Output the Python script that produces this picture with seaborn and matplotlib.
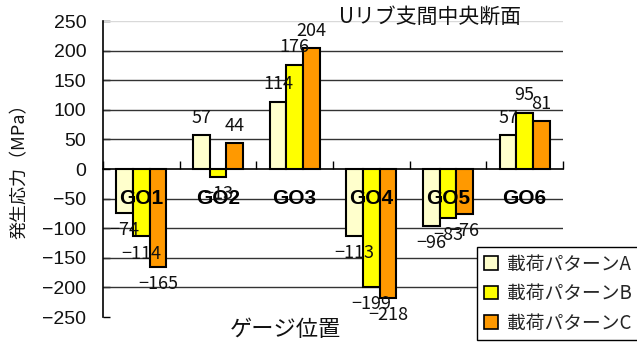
import numpy as np
import pandas as pd
import matplotlib
matplotlib.use("Agg")
import matplotlib.pyplot as plt
import seaborn as sns

# Gauge positions and stress values (MPa) for each loading pattern
gauges = ["GO1", "GO2", "GO3", "GO4", "GO5", "GO6"]
pattern_names = ["載荷パターンA", "載荷パターンB", "載荷パターンC"]
pattern_a = [-74, 57, 114, -113, -96, 57]
pattern_b = [-114, -13, 176, -199, -83, 95]
pattern_c = [-165, 44, 204, -218, -76, 81]
y_ticks = list(range(-250, 251, 50))

colors = ["#FFFFCC", "#FFFF00", "#FF9900"]

df = pd.DataFrame({
    "gauge": gauges * 3,
    "pattern": [pattern_names[0]] * 6 + [pattern_names[1]] * 6 + [pattern_names[2]] * 6,
    "stress": pattern_a + pattern_b + pattern_c,
})

sns.set_theme(style="white")
plt.rcParams["font.family"] = ["Noto Sans CJK JP", "DejaVu Sans"]
plt.rcParams["axes.unicode_minus"] = True

fig = plt.figure(figsize=(6.37, 3.42), dpi=100)
ax = fig.add_axes([103 / 637, 1 - 317 / 342, 460 / 637, 296 / 342])

sns.barplot(data=df, x="gauge", y="stress", hue="pattern", order=gauges,
            hue_order=pattern_names, palette=colors, width=0.65, gap=0,
            edgecolor="black", linewidth=1.5, saturation=1, ax=ax,
            legend=True, zorder=3)

ax.set_ylim(-250, 250)
ax.set_xlim(-0.5, 5.5)

# horizontal reference lines
for v in y_ticks:
    if v in (0, -250):
        continue
    color = "#D9D9D9" if v == 250 else "#333333"
    ax.axhline(v, color=color, lw=1.0, zorder=1)

ax.set_yticks(y_ticks)
ax.set_yticklabels([f"{v}".replace("-", "\u2212") for v in y_ticks],
                   fontfamily="Liberation Sans", fontsize=14)
ax.tick_params(axis="y", direction="in", length=5, width=1, color="black",
               pad=12, left=True, labelcolor="#111111")

# zero line carries the category separators
ax.spines["bottom"].set_position(("data", 0))
ax.spines["bottom"].set_color("black")
ax.spines["bottom"].set_linewidth(1.2)
ax.spines["bottom"].set_zorder(4)
ax.spines["left"].set_color("black")
ax.spines["left"].set_linewidth(1.2)
ax.spines["top"].set_visible(False)
ax.spines["right"].set_visible(False)
ax.set_xticks(np.arange(-0.5, 6.0, 1.0))
ax.set_xticklabels([])
ax.tick_params(axis="x", direction="in", length=6, width=1, color="black",
               bottom=True)
ax.set_xlabel("")
ax.set_ylabel("")

# gauge names drawn over the bars
for i, g in enumerate(gauges):
    ax.text(i, -50, g, ha="center", va="center", fontsize=15,
            fontweight="bold", fontfamily="Liberation Sans", color="black",
            zorder=6)

# value labels
series = [pattern_a, pattern_b, pattern_c]
for cont, vals in zip(ax.containers, series):
    ax.bar_label(cont, labels=[f"{v}".replace("-", "\u2212") for v in vals],
                 padding=6, fontsize=13, color="#111111", zorder=7)

ax.get_legend().remove()
handles = [plt.Rectangle((0, 0), 1, 1, facecolor=c, edgecolor="black", lw=1.2)
           for c in colors]
leg = fig.legend(handles, pattern_names, loc="upper left",
                 bbox_to_anchor=(477 / 637, 1 - 247 / 342),
                 fontsize=13.5, frameon=True, fancybox=False,
                 edgecolor="black", framealpha=1, handlelength=0.75,
                 handleheight=0.75, handletextpad=0.5, borderpad=0.35,
                 labelspacing=0.45, borderaxespad=0)
leg.get_frame().set_linewidth(1.0)

fig.text(430 / 637, 1 - 17 / 342, "Uリブ支間中央断面", ha="center",
         va="center", fontsize=15, color="#111111")
fig.text(20 / 637, 1 - 167 / 342, "発生応力（MPa）", ha="center", va="center",
         rotation=90, fontsize=13, color="#111111")
fig.text(285 / 637, 1 - 329 / 342, "ゲージ位置", ha="center", va="center",
         fontsize=16, color="#111111")

fig.savefig("out.png", dpi=100)
